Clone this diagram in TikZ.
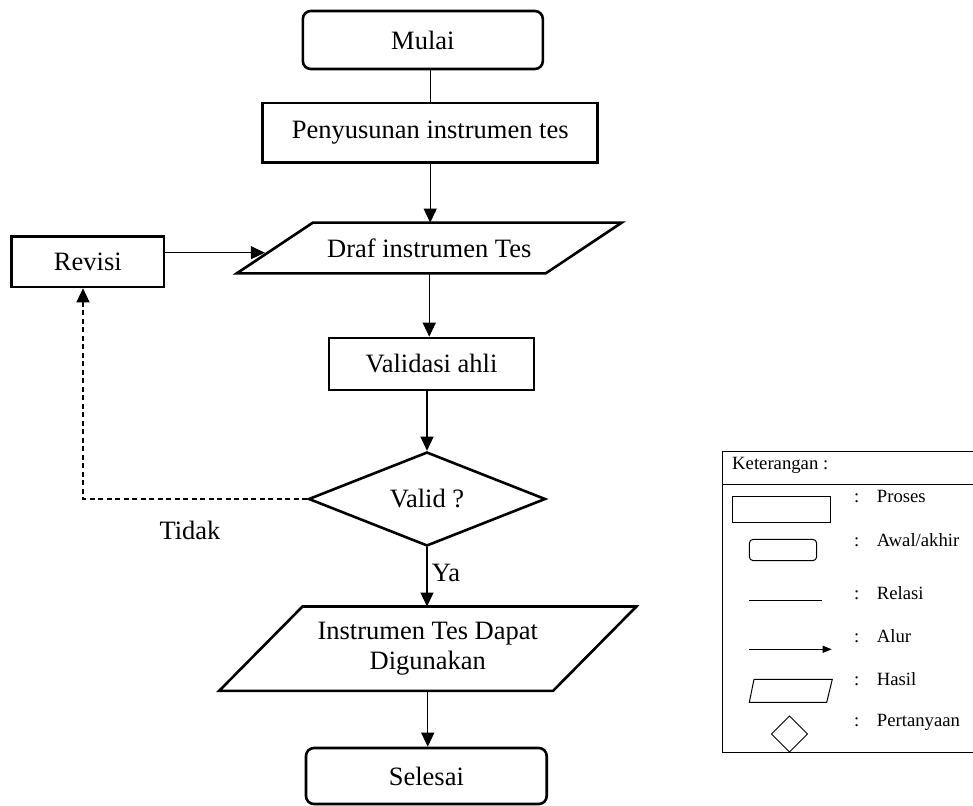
\documentclass[tikz,border=0pt]{standalone}
\usepackage{fontspec}
\setmainfont{Liberation Serif}
\usetikzlibrary{shapes.geometric, arrows.meta, calc}

% Parallelogram drawn around a (borderless) rectangle node: #1 node, #2 half skew
\newcommand\jajargenjang[2]{%
  \draw[line width=2.6pt, line join=miter]
    ([xshift=#2]#1.north west) -- ([xshift=#2]#1.north east) --
    ([xshift=-#2]#1.south east) -- ([xshift=-#2]#1.south west) -- cycle;}

\begin{document}
\begin{tikzpicture}[x=1pt, y=-1pt,
  teks/.style={font=\fontsize{26.5}{30}\selectfont, inner sep=0pt, align=center},
  proses/.style={teks, draw, line width=2.6pt, rectangle},
  terminal/.style={teks, draw, line width=2.6pt, rectangle, rounded corners=8pt},
  hasilbox/.style={teks, rectangle},
  keputusanbox/.style={teks, draw, line width=2.6pt, diamond, aspect=2.5},
  alur/.style={line width=1.3pt, -{Triangle[length=14pt,width=13pt]}},
  relasi/.style={line width=1.3pt},
  putus/.style={line width=1.3pt, dash pattern=on 5pt off 3.5pt,
                -{Triangle[length=14pt,width=13pt]}},
  label/.style={font=\fontsize{26.5}{30}\selectfont, inner sep=0pt},
  kecil/.style={font=\fontsize{18.7}{22}\selectfont, inner sep=0pt},
  garistipis/.style={line width=1pt}]

\useasboundingbox (0,0) rectangle (973,805);

% ---- flowchart ----
\node[terminal, minimum width=240pt, minimum height=58pt] (mulai) at (422.85,40) {Mulai};
\node[proses, minimum width=335pt, minimum height=59.7pt] (penyusun) at (430.2,132.85) {Penyusunan instrumen tes};
\node[hasilbox, minimum width=308.5pt, minimum height=50.3pt] (draf) at (429.25,248) {Draf instrumen Tes};
\jajargenjang{draf}{38pt}
\node[proses, minimum width=152.3pt, minimum height=50.3pt] (revisi) at (87.85,261.85) {Revisi};
\node[proses, minimum width=205pt, minimum height=52pt] (validasi) at (431.5,364) {Validasi ahli};
\node[keputusanbox, minimum width=237pt, minimum height=94pt] (keputusan) at (427,499) {Valid ?};
\node[hasilbox, minimum width=333.5pt, minimum height=84pt] (hasil) at (427.75,648.7) {Instrumen Tes Dapat\\Digunakan};
\jajargenjang{hasil}{41.7pt}
\node[terminal, minimum width=240.7pt, minimum height=56pt] (selesai) at (426.35,776) {Selesai};

% ---- connectors ----
\draw[relasi] (penyusun.north |- mulai.south) -- (penyusun.north);
\draw[alur] (penyusun.south) -- (penyusun.south |- draf.north);
\draw[alur] (draf.south) -- (draf.south |- validasi.north);
\draw[alur] (keputusan.north |- validasi.south) -- (keputusan.north);
\draw[alur] (keputusan.south) -- (keputusan.south |- hasil.north);
\draw[alur] (hasil.south) -- (hasil.south |- selesai.north);

\coordinate (masuk) at ([xshift=-10pt,yshift=-4.7pt]draf.west);
\draw[alur] (revisi.east |- masuk) -- (masuk);
\draw[putus] (keputusan.west) -| ([xshift=-4.85pt]revisi.south);

\node[label, anchor=base west] (tidak) at (159.3,539) {Tidak};
\node[label, anchor=base west] (ya) at (431.7,581.7) {Ya};

% ---- legend ----
\draw[garistipis] (973,451.7) -- (722.7,451.7) -- (722.7,752) -- (973,752);
\draw[garistipis] (722.7,484) -- (973,484);
\node[kecil, anchor=base west] (ket) at (732,469.3) {Keterangan :};

\draw[garistipis] (732.7,496.7) rectangle (830,522.7);
\draw[garistipis, rounded corners=4pt] (749.3,539.3) rectangle (816.7,560.7);
\draw[garistipis] (749,600.7) -- (821.7,600.7);
\draw[garistipis, -{Triangle[length=9pt,width=7pt]}] (749,649.3) -- (831.7,649.3);
\draw[garistipis] (754,679.3) -- (832.3,679.3) -- (826.7,702.3) -- (749.3,702.3) -- cycle;
\draw[garistipis] (771.5,734) -- (789.5,716) -- (807.5,734) -- (789.5,752) -- cycle;

\node[kecil, anchor=base] (k1) at (856.7,502.7) {:};
\node[kecil, anchor=base west] (t1) at (876.7,502.7) {Proses};
\node[kecil, anchor=base] (k2) at (856.7,546) {:};
\node[kecil, anchor=base west] (t2) at (876.7,546) {Awal/akhir};
\node[kecil, anchor=base] (k3) at (856.7,599.3) {:};
\node[kecil, anchor=base west] (t3) at (876.7,599.3) {Relasi};
\node[kecil, anchor=base] (k4) at (856.7,642.7) {:};
\node[kecil, anchor=base west] (t4) at (876.7,642.7) {Alur};
\node[kecil, anchor=base] (k5) at (856.7,685) {:};
\node[kecil, anchor=base west] (t5) at (876.7,685) {Hasil};
\node[kecil, anchor=base] (k6) at (856.7,726.7) {:};
\node[kecil, anchor=base west] (t6) at (876.7,726.7) {Pertanyaan};
\end{tikzpicture}
\end{document}
